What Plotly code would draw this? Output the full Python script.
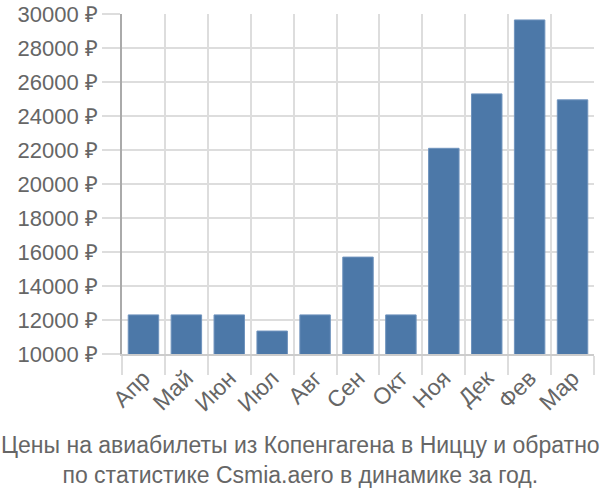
import plotly.graph_objects as go

months = ["Апр", "Май", "Июн", "Июл", "Авг", "Сен", "Окт", "Ноя", "Дек", "Фев", "Мар"]
prices = [12300, 12300, 12300, 11350, 12300, 15700, 12300, 22100, 25300, 29650, 24950]
y_ticks = list(range(10000, 30001, 2000))
y_tick_labels = [f"{v} ₽" for v in y_ticks]
title_lines = ["Цены на авиабилеты из Копенгагена в Ниццу и обратно",
               "по статистике Csmia.aero в динамике за год."]

FONT = "Liberation Sans"
GRAY = "#666666"

fig = go.Figure(go.Bar(
    x=months, y=prices,
    marker=dict(color="#4c78a8", line=dict(color="#6f93bd", width=1)),
))

fig.update_layout(
    width=600, height=500,
    margin=dict(l=122, r=6, t=14, b=146),
    paper_bgcolor="white", plot_bgcolor="white",
    bargap=0.29,
    showlegend=False,
    font=dict(family=FONT, color=GRAY),
)
fig.update_xaxes(
    automargin=False,
    tickangle=-45, tickfont=dict(size=23, family=FONT, color=GRAY),
    showgrid=True, gridcolor="#dddddd", gridwidth=1.5,
    tickson="boundaries", ticks="outside", ticklen=19, tickcolor="#dddddd", tickwidth=1.5,
    showline=True, linecolor="#cccccc", linewidth=1.5,
)
fig.update_yaxes(
    automargin=False,
    range=[10000, 30000], tickvals=y_ticks, ticktext=y_tick_labels,
    tickfont=dict(size=22, family=FONT, color=GRAY),
    showgrid=True, gridcolor="#dddddd", gridwidth=1.5,
    ticks="outside", ticklen=18, tickcolor="#dddddd", tickwidth=1.5,
    showline=True, linecolor="#aaaaaa", linewidth=1.5,
    zeroline=False,
)
fig.add_annotation(
    text="<br>".join(title_lines), x=(300 - 122) / (600 - 128), y=0,
    xref="paper", yref="paper",
    xanchor="center", yanchor="top", yshift=-76, showarrow=False,
    font=dict(size=23, family=FONT, color=GRAY),
)

fig.write_html("out.html")
